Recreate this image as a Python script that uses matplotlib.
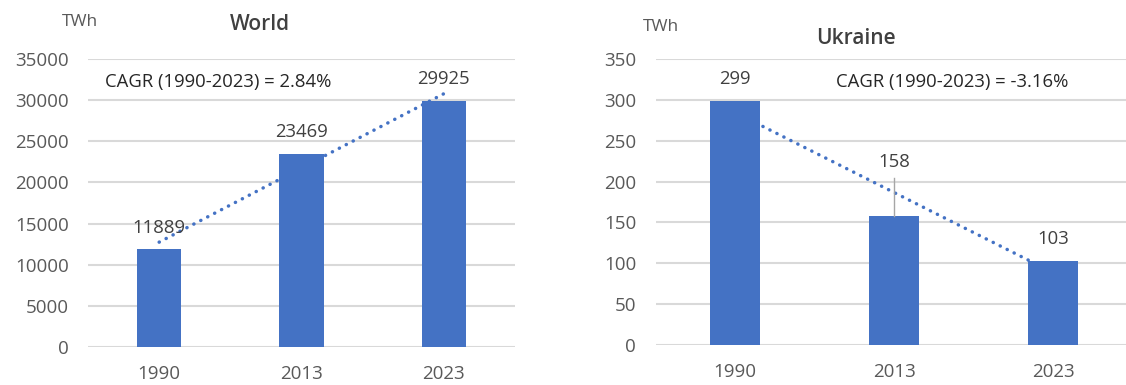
import numpy as np
import matplotlib.pyplot as plt

plt.rcParams['font.family'] = ['Open Sans', 'DejaVu Sans']

W, H = 1126, 385

years = ['1990', '2013', '2023']
world = [11889, 23469, 29925]
ukraine = [299, 158, 103]
world_ticks = [0, 5000, 10000, 15000, 20000, 25000, 30000, 35000]
ukraine_ticks = [0, 50, 100, 150, 200, 250, 300, 350]
world_cagr = 'CAGR (1990-2023) = 2.84%'
ukraine_cagr = 'CAGR (1990-2023) = -3.16%'

BLUE = '#4472C4'
GRID = '#D9D9D9'
TICK = '#595959'
LABEL = '#404040'


def px_box(x0, x1, ytop, ybot):
    return [x0 / W, 1 - ybot / H, (x1 - x0) / W, (ybot - ytop) / H]


def draw_panel(ax, values, ticks, leader_idx=None):
    x = np.arange(len(values))
    # linear trend line like Excel, drawn behind the bars
    k, b = np.polyfit(x + 1, values, 1)
    ax.plot(x, k * (x + 1) + b, linestyle=(0, (0.05, 2.2)), color=BLUE,
            lw=2.5, dash_capstyle='round', zorder=2)
    ax.bar(x, values, width=0.31, color=BLUE, zorder=3)
    ax.set_ylim(ticks[0], ticks[-1])
    ax.set_xlim(-0.5, len(values) - 0.5)
    ax.set_yticks(ticks)
    ax.set_xticks(x)
    ax.set_xticklabels(years)
    ax.grid(axis='y', color=GRID, lw=1.5, zorder=0)
    ax.set_axisbelow(True)
    for s in ax.spines.values():
        s.set_visible(False)
    ax.tick_params(length=0, labelsize=13.5, colors=TICK)
    ax.tick_params(axis='x', pad=13)
    ax.tick_params(axis='y', pad=14)
    step = ticks[1] - ticks[0]
    for i, v in enumerate(values):
        if i == leader_idx:
            # label lifted up with a leader line
            ax.annotate(str(v), (i, v), xytext=(0, 35), textcoords='offset points',
                        ha='center', va='baseline', fontsize=13.3, color=LABEL,
                        zorder=5)
            ax.plot([i, i], [v, v + step * 0.93], color='#A6A6A6', lw=1, zorder=4)
        else:
            ax.annotate(str(v), (i, v), xytext=(0, 12), textcoords='offset points',
                        ha='center', va='baseline', fontsize=13.3, color=LABEL,
                        zorder=5)


fig = plt.figure(figsize=(W / 100, H / 100), dpi=100)

ax1 = fig.add_axes(px_box(88, 515, 59, 347))
draw_panel(ax1, world, world_ticks)

ax2 = fig.add_axes(px_box(655.5, 1132.5, 59, 345))
draw_panel(ax2, ukraine, ukraine_ticks, leader_idx=1)


def ftext(x, y, s, **kw):
    fig.text(x / W, 1 - y / H, s, **kw)


ftext(80, 22, 'TWh', ha='center', va='center', fontsize=12.5, color=TICK)
ftext(661, 27, 'TWh', ha='center', va='center', fontsize=12.5, color=TICK)
ftext(260, 25, 'World', ha='center', va='center', fontsize=15,
      fontweight='semibold', color=LABEL)
ftext(856, 39, 'Ukraine', ha='center', va='center', fontsize=15,
      fontweight='semibold', color=LABEL)
ftext(105, 82, world_cagr, ha='left', va='center', fontsize=13.3, color='#262626')
ftext(836, 82, ukraine_cagr, ha='left', va='center', fontsize=13.3, color='#262626')

fig.savefig('out.png', dpi=100)
